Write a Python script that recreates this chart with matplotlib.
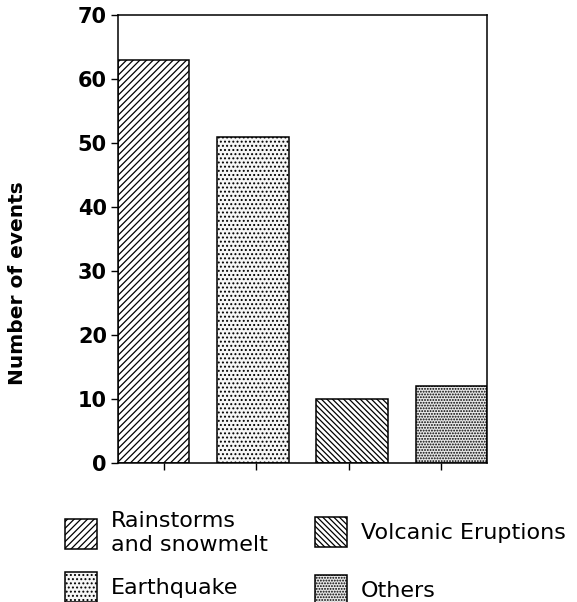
import matplotlib
matplotlib.use("Agg")
import matplotlib.pyplot as plt

categories = ["Rainstorms\nand snowmelt", "Earthquake", "Volcanic Eruptions", "Others"]
values = [63, 51, 10, 12]
hatches = ["/////", "....", "\\\\\\\\\\\\", "......"]
faces = ["white", "#f6f6f6", "white", "#e8e8e8"]
yticks = [0, 10, 20, 30, 40, 50, 60, 70]

plt.rcParams["hatch.linewidth"] = 0.9
plt.rcParams["font.family"] = ["DejaVu Sans"]

fig = plt.figure(figsize=(5.77, 6.02), dpi=100)
ax = fig.add_axes([118/577, 1-463/602, 369/577, 448/602])

w = 0.72
xs = list(range(len(values)))
bars = ax.bar(xs, values, width=w, color=faces, edgecolor="black", linewidth=1.1)
for b, h in zip(bars, hatches):
    b.set_hatch(h)

x0, x1 = -w/2, len(values) - 1 + w/2
ax.set_xlim(x0, x1)
ax.set_ylim(0, 70)
ax.set_xticks([x0 + (x1 - x0) * (i + 0.5) / len(values) for i in range(len(values))])
ax.set_xticklabels([])
ax.set_yticks(yticks)
ax.set_yticklabels([str(t) for t in yticks], fontsize=15, fontweight="bold")
ax.tick_params(axis="both", direction="out", length=5, width=1.0, pad=3)
for s in ax.spines.values():
    s.set_linewidth(1.1)

fig.text(17.5/577, 1-283/602, "Number of events", rotation=90, ha="center",
         va="center", fontsize=14.5, fontweight="bold", family="DejaVu Sans")

# legend entry anchors (patch left x, patch centre y) in pixels
anchors = [(65, 533), (65, 587), (315, 532), (315, 590)]
for bar, lab, (px, py) in zip(bars, categories, anchors):
    lg = fig.legend([bar], [lab], loc="center left",
                    bbox_to_anchor=(px/577, 1-py/602),
                    frameon=False, fontsize=16, handlelength=1.45, handleheight=1.7,
                    handletextpad=0.6, borderpad=0, borderaxespad=0)

fig.savefig("out.png", dpi=100)
